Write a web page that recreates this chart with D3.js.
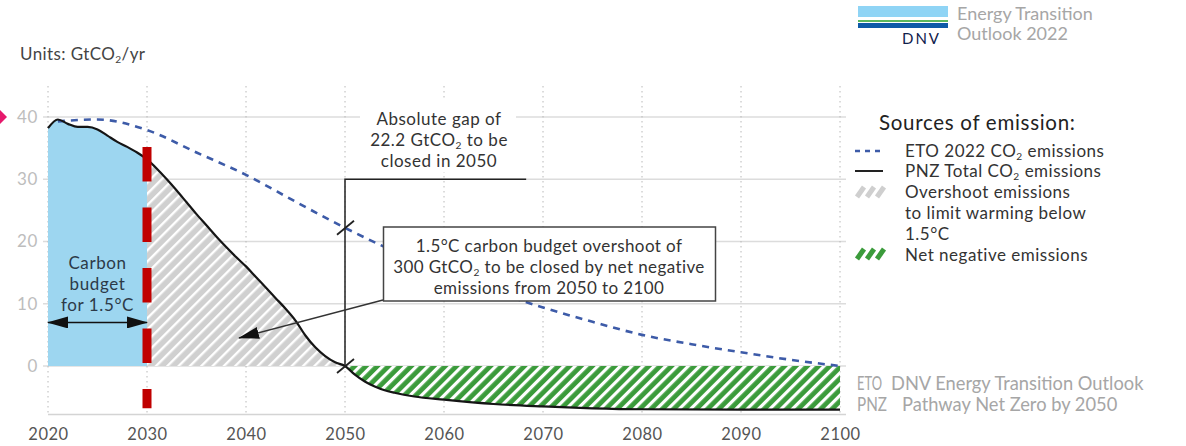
<!DOCTYPE html>
<html>
<head>
<meta charset="utf-8">
<script src="https://cdn.jsdelivr.net/npm/d3@7"></script>
<style>
  body { margin: 0; background: #fff; }
  svg { display: block; }
  text { font-family: Lato, "Noto Sans", sans-serif; }
</style>
</head>
<body>
<svg id="chart" width="1186" height="446"></svg>
<script>
// Pathway Net Zero: total CO2 emissions (GtCO2/yr)
const pnzYears = [2020, 2021, 2022, 2023, 2024, 2025, 2026, 2027, 2028, 2029,
                  2030, 2031, 2032, 2033, 2034, 2035, 2036, 2037, 2038, 2039,
                  2040, 2041, 2042, 2043, 2044, 2045, 2046, 2047, 2048, 2049,
                  2050, 2051, 2052, 2053, 2054, 2055, 2057, 2060, 2065, 2070,
                  2075, 2080, 2090, 2100];
const pnzValues = [38.2, 39.6, 38.9, 38.4, 38.4, 38.0, 37.0, 36.0, 35.2, 34.3,
                   33.2, 31.7, 30.0, 28.2, 26.3, 24.4, 22.6, 20.8, 19.1, 17.5,
                   16.0, 14.3, 12.6, 10.9, 9.2, 7.3, 4.9, 3.0, 1.6, 0.6,
                   0.0, -1.4, -2.5, -3.3, -3.9, -4.3, -4.9, -5.4, -6.1, -6.5,
                   -6.8, -6.95, -7.0, -7.0];

// ETO 2022: CO2 emissions forecast (GtCO2/yr)
const etoYears = [2021, 2025, 2030, 2035, 2040, 2045, 2050, 2055, 2060, 2065,
                  2070, 2075, 2080, 2085, 2090, 2095, 2100];
const etoValues = [39.3, 39.6, 37.9, 34.3, 30.7, 26.4, 22.2, 18.4, 15.0, 12.0,
                   9.4, 7.1, 5.0, 3.5, 2.2, 1.0, 0.0];

// Axis ticks
const xTicks = [2020, 2030, 2040, 2050, 2060, 2070, 2080, 2090, 2100];
const yTicks = [0, 10, 20, 30, 40];

// Period boundaries
const budgetEnd = 2030;
const netZeroYear = 2050;
const gap2050 = 22.2;

const svg = d3.select("#chart");
const x = d3.scaleLinear().domain([2020, 2100]).range([48, 840]);
const y = d3.scaleLinear().domain([0, 40]).range([366, 117]);
const yMin = -7.8;

const pnz = pnzYears.map((yr, i) => ({ yr, v: pnzValues[i] }));
const eto = etoYears.map((yr, i) => ({ yr, v: etoValues[i] }));

// Hatch patterns
const defs = svg.append("defs");
function hatch(id, bg, lineW) {
  const p = defs.append("pattern").attr("id", id)
    .attr("patternUnits", "userSpaceOnUse")
    .attr("width", 8).attr("height", 8)
    .attr("patternTransform", "rotate(45)");
  p.append("rect").attr("width", 8).attr("height", 8).attr("fill", bg);
  p.append("rect").attr("x", 0).attr("width", lineW).attr("height", 8).attr("fill", "#fff");
}
hatch("hatchGray", "#d0d0d0", 2.4);
hatch("hatchGreen", "#3b9b3b", 3.2);

function arrowMarker(id) {
  defs.append("marker").attr("id", id)
    .attr("markerUnits", "userSpaceOnUse")
    .attr("markerWidth", 21).attr("markerHeight", 12)
    .attr("refX", 20).attr("refY", 6)
    .attr("orient", "auto-start-reverse")
    .append("path").attr("d", "M0,0 L21,6 L0,12 Z").attr("fill", "#111");
}
arrowMarker("arrowHead");

// Rich text helper: "_2" renders as a subscript 2
function rich(parent, px, py, str, attrs) {
  const t = parent.append("text").attr("x", px).attr("y", py);
  Object.entries(attrs || {}).forEach(([k, v]) => t.attr(k, v));
  str.split("_2").forEach((part, i) => {
    if (i > 0) {
      t.append("tspan").attr("dy", 3).attr("font-size", "0.6em").text("2");
      t.append("tspan").attr("dy", -3).text(part);
    } else {
      t.append("tspan").text(part);
    }
  });
  return t;
}

// Grid
const grid = svg.append("g");
grid.selectAll("line.h").data(yTicks).join("line")
  .attr("x1", x(2020) - 5).attr("x2", x(2100) + 6)
  .attr("y1", d => y(d)).attr("y2", d => y(d))
  .attr("stroke", "#dcdcdc").attr("stroke-width", 1.5);
grid.selectAll("line.v").data(xTicks).join("line")
  .attr("x1", d => x(d)).attr("x2", d => x(d))
  .attr("y1", 86).attr("y2", y(yMin))
  .attr("stroke", "#b8b8b8").attr("stroke-width", 1)
  .attr("stroke-dasharray", "1.5,3.5");
grid.append("line")
  .attr("x1", x(2020)).attr("x2", x(2100) + 6)
  .attr("y1", y(yMin)).attr("y2", y(yMin))
  .attr("stroke", "#d4d4d4").attr("stroke-width", 1.5);

// Axes
const yAxis = svg.append("g").attr("transform", `translate(${x(2020)},0)`)
  .call(d3.axisLeft(y).tickValues(yTicks).tickSize(0).tickPadding(10));
yAxis.select(".domain").remove();
yAxis.selectAll("text").attr("font-size", 17).attr("fill", "#bdbdbd")
  .attr("font-family", "Lato, sans-serif").attr("letter-spacing", 0.6);

const xAxis = svg.append("g").attr("transform", `translate(0,${y(yMin)})`)
  .call(d3.axisBottom(x).tickValues(xTicks).tickFormat(d3.format("d")).tickSize(0).tickPadding(14));
xAxis.select(".domain").remove();
xAxis.selectAll("text").attr("font-size", 16.5).attr("fill", "#555")
  .attr("font-family", "Lato, sans-serif").attr("letter-spacing", 0.5);

// Areas
const curve = d3.curveMonotoneX;
const area = d3.area().x(d => x(d.yr)).y0(y(0)).y1(d => y(d.v)).curve(curve);
svg.append("path").datum(pnz.filter(d => d.yr <= budgetEnd))
  .attr("d", area).attr("fill", "#9dd6f0");
svg.append("path").datum(pnz.filter(d => d.yr >= budgetEnd && d.yr <= netZeroYear))
  .attr("d", area).attr("fill", "url(#hatchGray)");
svg.append("path").datum(pnz.filter(d => d.yr >= netZeroYear))
  .attr("d", area).attr("fill", "url(#hatchGreen)");

// Lines
const line = d3.line().x(d => x(d.yr)).y(d => y(d.v)).curve(curve);
svg.append("path").datum(eto).attr("d", line)
  .attr("fill", "none").attr("stroke", "#3d5ba8").attr("stroke-width", 2.6)
  .attr("stroke-dasharray", "7,6");
svg.append("path").datum(pnz).attr("d", line)
  .attr("fill", "none").attr("stroke", "#151515").attr("stroke-width", 2.2);

// 2030 marker
svg.append("line")
  .attr("x1", x(budgetEnd)).attr("x2", x(budgetEnd))
  .attr("y1", y(35.2)).attr("y2", y(-6.8))
  .attr("stroke", "#c00000").attr("stroke-width", 9)
  .attr("stroke-dasharray", "34.5,26");

// Carbon budget label and double arrow
const cb = svg.append("g").attr("font-size", 17).attr("letter-spacing", 0.6)
  .attr("fill", "#2c3a48").attr("text-anchor", "middle");
const cbx = (x(2020) + x(budgetEnd)) / 2;
cb.append("text").attr("x", cbx).attr("y", 269).text("Carbon");
cb.append("text").attr("x", cbx).attr("y", 290).text("budget");
cb.append("text").attr("x", cbx).attr("y", 311).text("for 1.5°C");
svg.append("line")
  .attr("x1", x(2020)).attr("x2", x(budgetEnd))
  .attr("y1", y(7)).attr("y2", y(7))
  .attr("stroke", "#111").attr("stroke-width", 1.5)
  .attr("marker-start", "url(#arrowHead)").attr("marker-end", "url(#arrowHead)");

// Gap annotation at 2050
svg.append("rect").attr("x", 360).attr("y", 99).attr("width", 156).attr("height", 73).attr("fill", "#fff");
const gapG = svg.append("g").attr("font-size", 17).attr("letter-spacing", 0.5)
  .attr("fill", "#333").attr("text-anchor", "middle");
rich(gapG, 439, 125, "Absolute gap of");
rich(gapG, 439, 146, `${gap2050} GtCO_2 to be`);
rich(gapG, 439, 167, "closed in 2050");
svg.append("path")
  .attr("d", `M${x(2068.3)},${y(30)} H${x(netZeroYear)} V${y(0)}`)
  .attr("fill", "none").attr("stroke", "#222").attr("stroke-width", 1.5);
[gap2050, 0].forEach(v => {
  svg.append("line")
    .attr("x1", x(netZeroYear) - 8).attr("y1", y(v) + 7)
    .attr("x2", x(netZeroYear) + 9).attr("y2", y(v) - 7)
    .attr("stroke", "#222").attr("stroke-width", 1.8);
});

// Overshoot annotation
svg.append("line")
  .attr("x1", 383).attr("y1", 300).attr("x2", 239).attr("y2", 338)
  .attr("stroke", "#333").attr("stroke-width", 1.5)
  .attr("marker-end", "url(#arrowHead)");
svg.append("rect").attr("x", 383.5).attr("y", 227).attr("width", 332).attr("height", 74)
  .attr("fill", "#fff").attr("stroke", "#444").attr("stroke-width", 1.5);
const osG = svg.append("g").attr("font-size", 17).attr("letter-spacing", 0.4)
  .attr("fill", "#333").attr("text-anchor", "middle");
rich(osG, 549, 252, "1.5°C carbon budget overshoot of");
rich(osG, 549, 273, "300 GtCO_2 to be closed by net negative");
rich(osG, 549, 294, "emissions from 2050 to 2100");

// Units label and marker
rich(svg, 20, 60, "Units: GtCO_2/yr", { "font-size": 17, fill: "#444", "letter-spacing": 0.4 });
svg.append("path").attr("d", "M-2,108 L7,117 L-2,126 Z").attr("fill", "#e6196c");

// Legend
const lg = svg.append("g").attr("fill", "#222");
lg.append("text").attr("x", 879).attr("y", 130).attr("font-size", 20.5)
  .attr("letter-spacing", 0.7).text("Sources of emission:");
const lgText = { "font-size": 17, fill: "#333", "letter-spacing": 0.5 };
lg.append("line").attr("x1", 855).attr("x2", 885).attr("y1", 151).attr("y2", 151)
  .attr("stroke", "#3d5ba8").attr("stroke-width", 2.4).attr("stroke-dasharray", "5,5");
rich(lg, 905, 157, "ETO 2022 CO_2 emissions", lgText);
lg.append("line").attr("x1", 855).attr("x2", 883).attr("y1", 171).attr("y2", 171)
  .attr("stroke", "#222").attr("stroke-width", 2);
rich(lg, 905, 177, "PNZ Total CO_2 emissions", lgText);
function legendHatch(cx, cy, color) {
  [0, 10, 20].forEach(o => {
    lg.append("line")
      .attr("x1", cx + o).attr("y1", cy + 5).attr("x2", cx + o + 7).attr("y2", cy - 5)
      .attr("stroke", color).attr("stroke-width", 5);
  });
}
legendHatch(857, 192, "#cfcfcf");
rich(lg, 905, 198, "Overshoot emissions", lgText);
rich(lg, 905, 219, "to limit warming below", lgText);
rich(lg, 905, 240, "1.5°C", lgText);
legendHatch(857, 254, "#3b9b3b");
rich(lg, 905, 261, "Net negative emissions", lgText);

// Logo block
const logo = svg.append("g");
logo.append("rect").attr("x", 858).attr("y", 6).attr("width", 90).attr("height", 11).attr("fill", "#8fd4f5");
logo.append("rect").attr("x", 858).attr("y", 20).attr("width", 90).attr("height", 2).attr("fill", "#5cb85c");
logo.append("rect").attr("x", 858).attr("y", 23).attr("width", 90).attr("height", 5).attr("fill", "#0e5aa7");
logo.append("text").attr("x", 902).attr("y", 44).attr("font-size", 15).attr("letter-spacing", 2)
  .attr("fill", "#0f204b").attr("font-family", "'Open Sans', sans-serif").text("DNV");
const logoText = logo.append("g").attr("fill", "#a6a6a6").attr("font-size", 18)
  .attr("font-family", "Roboto, sans-serif");
logoText.append("text").attr("x", 957).attr("y", 19.5).text("Energy Transition");
logoText.append("text").attr("x", 957).attr("y", 40).text("Outlook 2022");

// Abbreviations
const ab = svg.append("g").attr("fill", "#a6a6a6").attr("font-size", 18.3)
  .attr("font-family", "Roboto, sans-serif");
ab.append("text").attr("x", 857).attr("y", 390).attr("textLength", 25)
  .attr("lengthAdjust", "spacingAndGlyphs").text("ETO");
ab.append("text").attr("x", 891).attr("y", 390).text("DNV Energy Transition Outlook");
ab.append("text").attr("x", 857).attr("y", 411).attr("textLength", 30)
  .attr("lengthAdjust", "spacingAndGlyphs").text("PNZ");
ab.append("text").attr("x", 902).attr("y", 411).text("Pathway Net Zero by 2050");
</script>
</body>
</html>
